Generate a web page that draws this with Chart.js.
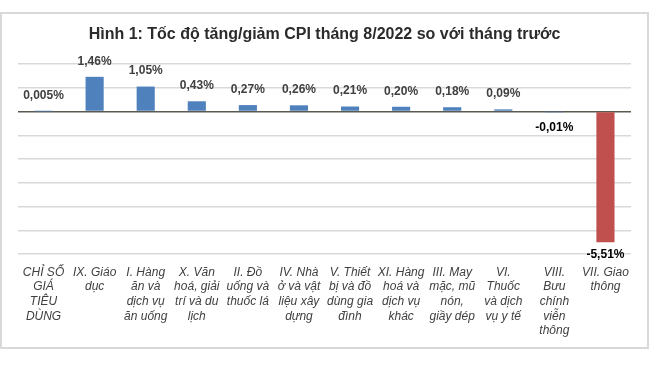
<!DOCTYPE html>
<html><head><meta charset="utf-8">
<script src="https://cdn.jsdelivr.net/npm/chart.js@4"></script>
<style>html,body{margin:0;padding:0;background:#fff}#wrap{width:650px;height:365px;position:relative}</style>
</head><body><div id="wrap"><canvas id="c" width="650" height="365"></canvas></div>
<script>
const titleText = 'Hình 1: Tốc độ tăng/giảm CPI tháng 8/2022 so với tháng trước';
const categories = [
  ['CHỈ SỐ','GIÁ','TIÊU','DÙNG'],
  ['IX. Giáo','dục'],
  ['I. Hàng','ăn và','dịch vụ','ăn uống'],
  ['X. Văn','hoá, giải','trí và du','lịch'],
  ['II. Đồ','uống và','thuốc lá'],
  ['IV. Nhà','ở và vật','liệu xây','dựng'],
  ['V. Thiết','bị và đồ','dùng gia','đình'],
  ['XI. Hàng','hoá và','dịch vụ','khác'],
  ['III. May','mặc, mũ','nón,','giầy dép'],
  ['VI.','Thuốc','và dịch','vụ y tế'],
  ['VIII.','Bưu','chính','viễn','thông'],
  ['VII. Giao','thông']
];
const values = [0.005, 1.46, 1.05, 0.43, 0.27, 0.26, 0.21, 0.20, 0.18, 0.09, -0.01, -5.51];
const valueLabels = ['0,005%','1,46%','1,05%','0,43%','0,27%','0,26%','0,21%','0,20%','0,18%','0,09%','-0,01%','-5,51%'];
const barColors = ['#4f81bd','#4f81bd','#4f81bd','#4f81bd','#4f81bd','#4f81bd','#4f81bd','#4f81bd','#4f81bd','#4f81bd','#4f81bd','#c0504d'];
const yMin = -6, yMax = 2, yStep = 1;

const FONT = '"Liberation Sans", Arial, sans-serif';

const framePlugin = {
  id: 'frame',
  beforeDraw(chart) {
    const ctx = chart.ctx;
    ctx.save();
    ctx.fillStyle = '#fff';
    ctx.fillRect(0, 0, chart.width, chart.height);
    ctx.strokeStyle = '#d9d9d9';
    ctx.lineWidth = 2;
    ctx.strokeRect(1, 13, 647, 335);
    ctx.restore();
  }
};

const labelPlugin = {
  id: 'valLabels',
  afterDatasetsDraw(chart) {
    const ctx = chart.ctx;
    const meta = chart.getDatasetMeta(0);
    ctx.save();
    ctx.font = 'bold 12px ' + FONT;
    ctx.textAlign = 'center';
    ctx.textBaseline = 'middle';
    meta.data.forEach((bar, i) => {
      const v = values[i];
      let y;
      if (v >= 0) { y = bar.y - 15.5; ctx.fillStyle = '#404040'; }
      else { y = Math.min(bar.y + 16, chart.chartArea.bottom + 1); ctx.fillStyle = '#000'; }
      ctx.fillText(valueLabels[i], bar.x, y);
    });
    ctx.restore();
  }
};

new Chart(document.getElementById('c'), {
  type: 'bar',
  data: {
    labels: categories,
    datasets: [{
      data: values,
      backgroundColor: barColors,
      borderWidth: 0,
      categoryPercentage: 1,
      barPercentage: 0.355
    }]
  },
  options: {
    responsive: false,
    animation: false,
    devicePixelRatio: 1,
    layout: { padding: { left: 18, right: 19, top: 0, bottom: 0 } },
    plugins: {
      legend: { display: false },
      tooltip: { enabled: false },
      title: {
        display: true,
        text: titleText,
        color: '#2b2b2b',
        font: { family: FONT, size: 16, weight: 'bold', lineHeight: 1.2 },
        padding: { top: 25.4, bottom: 19.4 }
      }
    },
    scales: {
      x: {
        grid: { display: false, drawTicks: false },
        border: { display: false },
        ticks: {
          autoSkip: false, maxRotation: 0, minRotation: 0,
          padding: 11,
          color: '#404040',
          font: { family: FONT, size: 12, style: 'italic', lineHeight: 1.22 }
        },
        afterFit(scale) { scale.height = 111; }
      },
      y: {
        min: yMin, max: yMax,
        ticks: { display: false, stepSize: yStep },
        border: { display: false },
        grid: {
          drawTicks: false,
          lineWidth: 1.5,
          color: (c) => (c.tick && c.tick.value === 0) ? '#5a5a50' : '#d9d9d9'
        },
        afterFit(scale) { scale.width = 0; }
      }
    }
  },
  plugins: [framePlugin, labelPlugin]
});
</script>
</body></html>
